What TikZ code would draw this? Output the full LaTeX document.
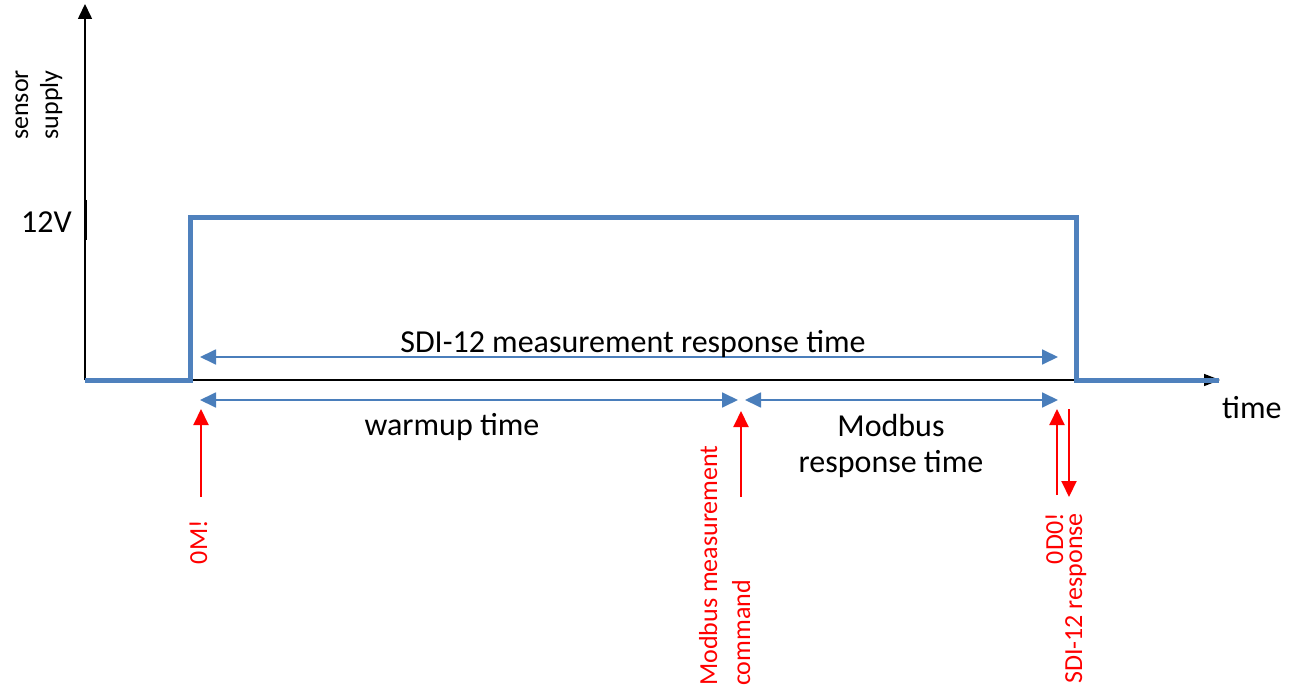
\documentclass[tikz,border=0pt]{standalone}
\usepackage{fontspec}
\setmainfont{Carlito}
\usetikzlibrary{arrows.meta}
\definecolor{sigblue}{HTML}{4F81BD}
\definecolor{dimblue}{HTML}{4A7EBB}
\definecolor{cmdred}{HTML}{FF0000}
\tikzset{
  axisline/.style={draw=black, line width=1.6pt, -{Triangle[length=15pt,width=14pt]}},
  signal/.style={draw=sigblue, line width=5pt, line join=miter},
  dimline/.style={draw=dimblue, line width=1.8pt, {Triangle[length=16pt,width=15pt]}-{Triangle[length=16pt,width=15pt]}},
  cmdarrow/.style={draw=cmdred, line width=2pt, -{Triangle[length=16pt,width=15pt]}},
  bigtext/.style={inner sep=0pt, font=\fontsize{32}{38}\selectfont},
  redtext/.style={inner sep=0pt, text=cmdred, rotate=90, font=\fontsize{26}{30}\selectfont},
  axtext/.style={inner sep=0pt, rotate=90, anchor=base, font=\fontsize{26}{30}\selectfont},
}
\begin{document}
\begin{tikzpicture}[x=1pt,y=-1pt]
\useasboundingbox (0,0) rectangle (1293,687);
% axes
\coordinate (origin) at (85,380);
\coordinate (ytop) at (85,4);
\coordinate (xend) at (1220,380);
\draw[axisline] (origin) -- (ytop);
\coordinate (tickA) at (86,200);
\coordinate (tickB) at (86,240);
\draw[black, line width=1.6pt] (tickA) -- (tickB);
\draw[axisline, -{Triangle[length=16pt,width=12pt]}] (origin) -- (xend);
% signal
\coordinate (s1) at (190,380);
\coordinate (s2) at (190,218);
\coordinate (s3) at (1076,218);
\coordinate (s4) at (1076,380);
\coordinate (s5) at (1219,380);
\draw[signal] (origin) -- (s1) -- (s2) -- (s3) -- (s4) -- (s5);
% axis labels
\node[bigtext, anchor=base east] (v12) at (72,233) {12V};
\node[axtext] (sensor) at (28,105) {sensor};
\node[axtext] (supply) at (58,105) {supply};
\node[bigtext, anchor=base west] (time) at (1222,418) {time};
% dimension arrows
\coordinate (sdiL) at (200,357);
\coordinate (sdiR) at (1058,357);
\draw[dimline] (sdiL) -- (sdiR);
\node[bigtext, anchor=base] (sdilabel) at (633,352) {SDI-12 measurement response time};
\coordinate (wL) at (200,400);
\coordinate (wR) at (738,400);
\draw[dimline] (wL) -- (wR);
\node[bigtext, anchor=base] (warmup) at (452,435) {warmup time};
\coordinate (mL) at (745,400);
\coordinate (mR) at (1058,400);
\draw[dimline] (mL) -- (mR);
\node[bigtext, anchor=base] (modbus1) at (891,436) {Modbus};
\node[bigtext, anchor=base] (modbus2) at (891,472) {response time};
% red command arrows
\coordinate (c1s) at (201,497);
\coordinate (c1e) at (201,409);
\draw[cmdarrow] (c1s) -- (c1e);
\node[redtext, anchor=base east] (om) at (207,520) {0M!};
\coordinate (c2s) at (741,497);
\coordinate (c2e) at (741,411);
\draw[cmdarrow] (c2s) -- (c2e);
\node[redtext, anchor=base west] (mcmd1) at (717,686) {Modbus measurement};
\node[redtext, anchor=base west] (mcmd2) at (750,686) {command};
\coordinate (c3s) at (1057,495);
\coordinate (c3e) at (1057,409);
\draw[cmdarrow] (c3s) -- (c3e);
\coordinate (c4s) at (1069,409);
\coordinate (c4e) at (1069,497);
\draw[cmdarrow] (c4s) -- (c4e);
\node[redtext, anchor=base east] (odo) at (1063,513) {0D0!};
\node[redtext, anchor=base east] (sdiresp) at (1082,513) {SDI-12 response};
\end{tikzpicture}
\end{document}
